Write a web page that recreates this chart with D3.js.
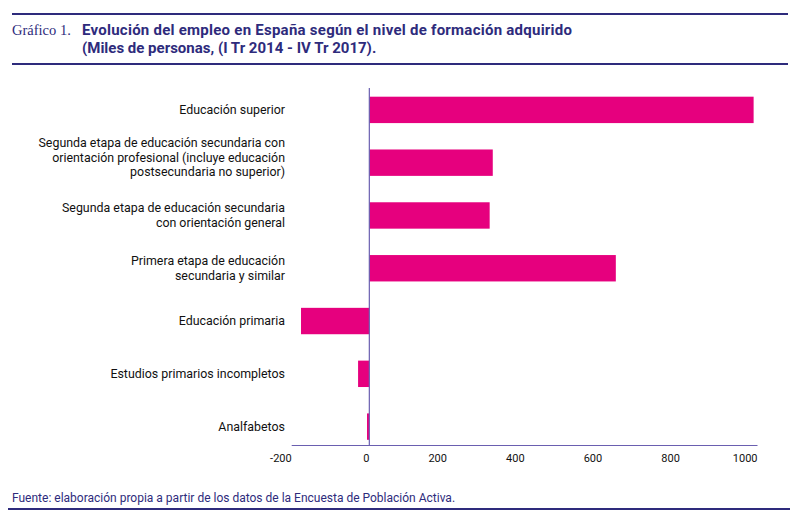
<!DOCTYPE html>
<html>
<head>
<meta charset="utf-8">
<script src="https://cdn.jsdelivr.net/npm/d3@7"></script>
<style>
  body { margin: 0; background: #fff; }
  svg text { font-family: Roboto, "Liberation Sans", sans-serif; }
</style>
</head>
<body>
<div id="chart"></div>
<script>
// datos (miles de personas)
const categorias = [
  ["Educación superior"],
  ["Segunda etapa de educación secundaria con", "orientación profesional (incluye educación", "postsecundaria no superior)"],
  ["Segunda etapa de educación secundaria", "con orientación general"],
  ["Primera etapa de educación", "secundaria y similar"],
  ["Educación primaria"],
  ["Estudios primarios incompletos"],
  ["Analfabetos"]
];
const valores = [990, 318, 310, 635, -176, -29, -6];
const ticksX = [-200, 0, 200, 400, 600, 800, 1000];

const navy = "#2e2b7c";
const rosa = "#e6007e";
const eje = "#6a5fb0";

const width = 800, height = 520;

let svg = d3.select("#chart")
  .append("svg")
  .attr("width", width)
  .attr("height", height);

// cabecera
svg.append("rect").attr("x", 12).attr("y", 13).attr("width", 776).attr("height", 2).attr("fill", navy);
svg.append("rect").attr("x", 12).attr("y", 63).attr("width", 776).attr("height", 2).attr("fill", navy);

svg.append("text")
  .attr("x", 12).attr("y", 35)
  .style("font-family", "'Liberation Serif', 'DejaVu Serif', serif")
  .style("font-size", "14.5px")
  .attr("fill", navy)
  .text("Gráfico 1.");

let titulo = svg.append("text")
  .style("font-size", "15px")
  .style("font-weight", "bold")
  .attr("fill", navy);
titulo.append("tspan").attr("x", 82).attr("y", 35)
  .attr("textLength", 490).attr("lengthAdjust", "spacing")
  .text("Evolución del empleo en España según el nivel de formación adquirido");
titulo.append("tspan").attr("x", 82).attr("y", 53)
  .text("(Miles de personas, (I Tr 2014 - IV Tr 2017).");

// escalas
let x = d3.scaleLinear()
  .domain([-200, 1000])
  .range([291.7, 757.5]);

let y = d3.scaleBand()
  .domain(d3.range(categorias.length))
  .range([83.5, 453])
  .paddingInner(0.5)
  .paddingOuter(0.25);

let ejeY = 445.5;

// barras
svg.selectAll("rect.barra")
  .data(valores)
  .enter().append("rect")
  .attr("class", "barra")
  .attr("x", d => x(Math.min(0, d)))
  .attr("width", d => Math.abs(x(d) - x(0)))
  .attr("y", (d, i) => y(i))
  .attr("height", y.bandwidth())
  .attr("fill", rosa);

// eje vertical (cero)
svg.append("line")
  .attr("x1", x(0)).attr("x2", x(0))
  .attr("y1", 88).attr("y2", ejeY)
  .attr("stroke", eje).attr("stroke-width", 1.2);

// eje horizontal
svg.append("line")
  .attr("x1", x(-200)).attr("x2", x(1000))
  .attr("y1", ejeY).attr("y2", ejeY)
  .attr("stroke", eje).attr("stroke-width", 1.2);

svg.selectAll("text.tick")
  .data(ticksX)
  .enter().append("text")
  .attr("class", "tick")
  .attr("x", d => x(d))
  .attr("y", ejeY + 16)
  .attr("text-anchor", "end")
  .style("font-size", "11px")
  .attr("fill", "#111")
  .text(d => d);

// etiquetas de categorías
let etiquetas = svg.selectAll("text.cat")
  .data(categorias)
  .enter().append("text")
  .attr("class", "cat")
  .attr("text-anchor", "end")
  .style("font-size", "12.4px")
  .attr("fill", "#111");

etiquetas.each(function (lineas, i) {
  let cy = y(i) + y.bandwidth() / 2;
  let alto = 14.5;
  // la etiqueta de tres líneas queda algo más arriba en el original
  let ajuste = lineas.length > 2 ? -5 : 0;
  let inicio = cy - (lineas.length - 1) * alto / 2 + 4 + ajuste;
  d3.select(this).selectAll("tspan")
    .data(lineas)
    .enter().append("tspan")
    .attr("x", 285)
    .attr("y", (d, j) => inicio + j * alto)
    .text(d => d);
});

// fuente
svg.append("text")
  .attr("x", 12).attr("y", 502)
  .style("font-size", "12px")
  .attr("fill", navy)
  .text("Fuente: elaboración propia a partir de los datos de la Encuesta de Población Activa.");
svg.append("rect").attr("x", 8).attr("y", 508).attr("width", 782).attr("height", 2).attr("fill", navy);
</script>
</body>
</html>
